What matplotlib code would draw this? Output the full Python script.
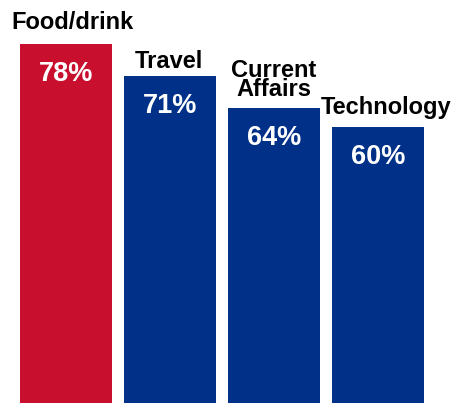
import matplotlib
matplotlib.use("Agg")
import matplotlib.pyplot as plt

categories = ["Food/drink", "Travel", "Current\nAffairs", "Technology"]
values = [78, 71, 64, 60]
colors = ["#C8102E", "#003087", "#003087", "#003087"]

# small per-label nudges (pixels): horizontal shift, baseline gap above bar
label_dx = [6, -1, 0, 8]
label_gap = [14.7, 7.7, 12, 13]

plt.rcParams["font.family"] = ["Liberation Sans", "DejaVu Sans"]

DPI = 100
PX = 72 / DPI  # points per pixel

fig = plt.figure(figsize=(4.59, 4.03), dpi=DPI)
ax = fig.add_axes([0, 0, 1, 1])

x = list(range(len(values)))
ax.bar(x, values, width=92 / 104, color=colors)

ax.set_xlim(-66 / 104, (459 - 66) / 104)
ax.set_ylim(0, 87.55)
ax.axis("off")

for xi, v, cat, dx, gap in zip(x, values, categories, label_dx, label_gap):
    ax.annotate(f"{v}%", (xi, v), xytext=(0, -37 * PX), textcoords="offset points",
                ha="center", va="baseline", color="white", fontsize=19.5,
                fontweight="bold")
    ax.annotate(cat, (xi, v), xytext=(dx * PX, gap * PX), textcoords="offset points",
                ha="center", va="baseline", color="black", fontsize=17,
                fontweight="bold", linespacing=0.82)

fig.savefig("out.png", dpi=DPI)
